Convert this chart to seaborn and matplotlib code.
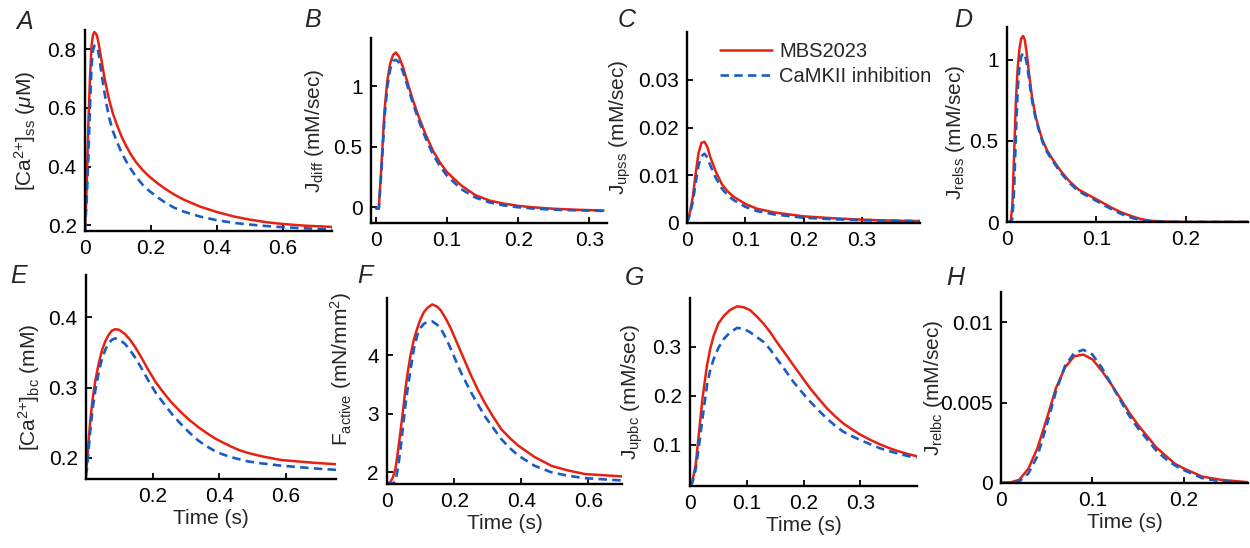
import matplotlib
matplotlib.use("Agg")
import matplotlib.pyplot as plt
import seaborn as sns
from matplotlib.ticker import FuncFormatter

# ---- data (time in s) ----
t_a = [0, 0.005, 0.01, 0.015, 0.02, 0.024, 0.028, 0.032, 0.036, 0.04, 0.045, 0.051, 0.058,
       0.066, 0.075, 0.085, 0.095, 0.11, 0.125, 0.14, 0.155, 0.175, 0.195, 0.22, 0.245, 0.27,
       0.3, 0.35, 0.4, 0.45, 0.5, 0.55, 0.6, 0.67, 0.75]
ca_ss_mbs = [0.18, 0.33, 0.54, 0.70, 0.814, 0.848, 0.859, 0.855, 0.848, 0.828, 0.797, 0.757,
             0.71, 0.665, 0.62, 0.58, 0.548, 0.505, 0.47, 0.44, 0.415, 0.388, 0.366, 0.343,
             0.323, 0.305, 0.287, 0.263, 0.245, 0.23, 0.219, 0.21, 0.204, 0.198, 0.194]
ca_ss_inh = [0.18, 0.28, 0.425, 0.60, 0.745, 0.795, 0.812, 0.814, 0.808, 0.795, 0.76, 0.711,
             0.66, 0.608, 0.56, 0.52, 0.49, 0.45, 0.418, 0.39, 0.365, 0.338, 0.317, 0.295,
             0.276, 0.26, 0.246, 0.229, 0.217, 0.208, 0.202, 0.197, 0.193, 0.189, 0.185]

t_b = [0, 0.004, 0.008, 0.012, 0.016, 0.02, 0.024, 0.028, 0.032, 0.038, 0.045, 0.052, 0.06,
       0.07, 0.08, 0.09, 0.1, 0.12, 0.14, 0.16, 0.18, 0.2, 0.22, 0.25, 0.28, 0.32]
jdiff_mbs = [-0.01, -0.01, 0.38, 0.8, 1.05, 1.19, 1.26, 1.28, 1.25, 1.16, 1.02, 0.885, 0.75,
             0.6, 0.47, 0.37, 0.29, 0.18, 0.1, 0.055, 0.03, 0.012, 0.0, -0.012, -0.02, -0.027]
jdiff_inh = [-0.01, -0.01, 0.33, 0.74, 1.0, 1.14, 1.21, 1.22, 1.2, 1.12, 0.99, 0.86, 0.72,
             0.57, 0.44, 0.34, 0.26, 0.15, 0.08, 0.04, 0.015, 0.0, -0.01, -0.02, -0.025, -0.03]

t_c = [0, 0.005, 0.01, 0.015, 0.02, 0.025, 0.03, 0.035, 0.04, 0.05, 0.06, 0.07, 0.08,
       0.1, 0.12, 0.15, 0.2, 0.25, 0.3, 0.35, 0.4]
jupss_mbs = [0, 0.0022, 0.0055, 0.0105, 0.0148, 0.0168, 0.017, 0.0159, 0.0138, 0.0106, 0.0081,
             0.0066, 0.0055, 0.004, 0.003, 0.0022, 0.0014, 0.001, 0.0007, 0.0005, 0.0004]
jupss_inh = [0, 0.0018, 0.0045, 0.0085, 0.0122, 0.014, 0.0145, 0.0137, 0.0121, 0.0093, 0.0072,
             0.0058, 0.0048, 0.0034, 0.0025, 0.0018, 0.0011, 0.0008, 0.0006, 0.0005, 0.0004]

t_d = [0, 0.004, 0.006, 0.008, 0.01, 0.012, 0.014, 0.016, 0.018, 0.02, 0.022, 0.025, 0.028,
       0.032, 0.036, 0.04, 0.045, 0.05, 0.06, 0.07, 0.08, 0.09, 0.1, 0.11, 0.12, 0.13, 0.14,
       0.15, 0.16, 0.18, 0.2, 0.24, 0.27]
jrelss_mbs = [0, 0.0, 0.1, 0.42, 0.75, 0.95, 1.07, 1.13, 1.145, 1.12, 1.04, 0.9, 0.77, 0.65,
              0.57, 0.5, 0.44, 0.395, 0.315, 0.25, 0.2, 0.17, 0.14, 0.11, 0.08, 0.055, 0.035,
              0.018, 0.008, 0.002, 0.0, 0.0, 0.0]
jrelss_inh = [0, 0.0, 0.02, 0.2, 0.55, 0.82, 0.96, 1.02, 1.04, 1.03, 0.98, 0.87, 0.75, 0.64,
              0.56, 0.49, 0.43, 0.385, 0.305, 0.24, 0.19, 0.16, 0.13, 0.1, 0.07, 0.045, 0.025,
              0.012, 0.005, 0.001, 0.0, 0.0, 0.0]

t_e = [0, 0.004, 0.008, 0.013, 0.02, 0.028, 0.038, 0.048, 0.058, 0.068, 0.078, 0.088, 0.1,
       0.117, 0.132, 0.147, 0.167, 0.187, 0.21, 0.237, 0.26, 0.287, 0.31, 0.336, 0.36, 0.386,
       0.41, 0.436, 0.46, 0.486, 0.53, 0.585, 0.635, 0.685, 0.75]
ca_bc_mbs = [0.18, 0.2, 0.225, 0.254, 0.284, 0.31, 0.334, 0.353, 0.366, 0.375, 0.381, 0.383,
             0.382, 0.376, 0.368, 0.358, 0.342, 0.325, 0.307, 0.29, 0.277, 0.264, 0.254,
             0.244, 0.236, 0.228, 0.222, 0.216, 0.211, 0.207, 0.202, 0.197, 0.195, 0.193, 0.191]
ca_bc_inh = [0.174, 0.19, 0.212, 0.24, 0.27, 0.296, 0.321, 0.341, 0.354, 0.363, 0.368, 0.37,
             0.368, 0.362, 0.353, 0.343, 0.327, 0.31, 0.292, 0.275, 0.261, 0.247, 0.236,
             0.225, 0.217, 0.21, 0.205, 0.201, 0.198, 0.195, 0.192, 0.189, 0.187, 0.185, 0.183]

t_f = [0, 0.01, 0.018, 0.025, 0.032, 0.04, 0.048, 0.055, 0.062, 0.07, 0.08, 0.09, 0.1, 0.11,
       0.12, 0.135, 0.15, 0.16, 0.175, 0.19, 0.205, 0.22, 0.235, 0.25, 0.27, 0.29, 0.315,
       0.34, 0.365, 0.39, 0.44, 0.49, 0.54, 0.59, 0.645, 0.70]
fact_mbs = [1.81, 1.83, 1.92, 2.06, 2.33, 2.69, 3.07, 3.43, 3.72, 4.0, 4.27, 4.46, 4.62, 4.74,
            4.81, 4.87, 4.83, 4.77, 4.63, 4.46, 4.26, 4.06, 3.86, 3.66, 3.42, 3.2, 2.96, 2.74,
            2.59, 2.46, 2.26, 2.11, 2.03, 1.97, 1.95, 1.93]
fact_inh = [1.81, 1.81, 1.81, 1.85, 2.05, 2.38, 2.8, 3.15, 3.45, 3.75, 4.11, 4.34, 4.47, 4.54,
            4.57, 4.58, 4.52, 4.46, 4.3, 4.11, 3.91, 3.71, 3.54, 3.37, 3.17, 2.97, 2.77, 2.57,
            2.42, 2.29, 2.11, 2.0, 1.94, 1.9, 1.88, 1.86]

t_g = [0, 0.004, 0.01, 0.016, 0.022, 0.03, 0.036, 0.042, 0.05, 0.06, 0.07, 0.083, 0.095,
       0.106, 0.118, 0.13, 0.142, 0.153, 0.168, 0.182, 0.197, 0.212, 0.227, 0.241, 0.255,
       0.27, 0.285, 0.3, 0.318, 0.335, 0.352, 0.37, 0.385, 0.399]
jupbc_mbs = [0.017, 0.025, 0.059, 0.127, 0.195, 0.263, 0.298, 0.324, 0.348, 0.364, 0.375,
             0.383, 0.381, 0.375, 0.362, 0.347, 0.329, 0.31, 0.286, 0.263, 0.239, 0.215, 0.194,
             0.175, 0.159, 0.144, 0.132, 0.121, 0.11, 0.101, 0.093, 0.086, 0.081, 0.077]
jupbc_inh = [0.017, 0.022, 0.05, 0.1, 0.154, 0.222, 0.255, 0.276, 0.298, 0.317, 0.329, 0.339,
             0.337, 0.33, 0.32, 0.31, 0.294, 0.276, 0.252, 0.229, 0.208, 0.188, 0.17, 0.154,
             0.14, 0.127, 0.118, 0.11, 0.101, 0.093, 0.087, 0.081, 0.077, 0.073]

t_h = [0, 0.01, 0.02, 0.03, 0.04, 0.05, 0.06, 0.07, 0.08, 0.09, 0.1, 0.11, 0.12, 0.13, 0.14,
       0.15, 0.16, 0.17, 0.18, 0.19, 0.2, 0.22, 0.24, 0.27]
jrelbc_mbs = [0, 0.00003, 0.0002, 0.0009, 0.0022, 0.004, 0.0059, 0.0072, 0.0079, 0.008, 0.0077,
              0.007, 0.0062, 0.0053, 0.0044, 0.0036, 0.0029, 0.0022, 0.0017, 0.0012, 0.0009,
              0.0004, 0.0002, 0.00005]
jrelbc_inh = [0, 0.00002, 0.0001, 0.0006, 0.0017, 0.0036, 0.0057, 0.0073, 0.0081, 0.0083,
              0.008, 0.0072, 0.0062, 0.0052, 0.0042, 0.0034, 0.0027, 0.002, 0.0015, 0.0011,
              0.0008, 0.0003, 0.0001, 0.00003]

series_names = ["MBS2023", "CaMKII inhibition"]
panel_letters = ["A", "B", "C", "D", "E", "F", "G", "H"]
ylabels = [r"[Ca$^{2{+}}$]$_{\rm ss}$ ($\mu$M)",
           r"J$_{\rm diff}$ (mM/sec)",
           r"J$_{\rm upss}$ (mM/sec)",
           r"J$_{\rm relss}$ (mM/sec)",
           r"[Ca$^{2{+}}$]$_{\rm bc}$ (mM)",
           r"F$_{\rm active}$ (mN/mm$^2$)",
           r"J$_{\rm upbc}$ (mM/sec)",
           r"J$_{\rm relbc}$ (mM/sec)"]
xticks = [[0, 0.2, 0.4, 0.6], [0, 0.1, 0.2, 0.3], [0, 0.1, 0.2, 0.3], [0, 0.1, 0.2],
          [0.2, 0.4, 0.6], [0, 0.2, 0.4, 0.6], [0, 0.1, 0.2, 0.3], [0, 0.1, 0.2]]
yticks = [[0.2, 0.4, 0.6, 0.8], [0, 0.5, 1], [0, 0.01, 0.02, 0.03], [0, 0.5, 1],
          [0.2, 0.3, 0.4], [2, 3, 4], [0.1, 0.2, 0.3], [0, 0.005, 0.01]]
xlims = [(0, 0.75), (-0.007, 0.325), (0, 0.40), (0, 0.27),
         (0, 0.75), (0, 0.70), (0, 0.40), (0, 0.27)]
ylims = [(0.18, 0.866), (-0.13, 1.40), (0, 0.040), (0, 1.2),
         (0.17, 0.46), (1.80, 4.98), (0.016, 0.40), (0, 0.0119)]

panels = [(t_a, ca_ss_mbs, ca_ss_inh), (t_b, jdiff_mbs, jdiff_inh),
          (t_c, jupss_mbs, jupss_inh), (t_d, jrelss_mbs, jrelss_inh),
          (t_e, ca_bc_mbs, ca_bc_inh), (t_f, fact_mbs, fact_inh),
          (t_g, jupbc_mbs, jupbc_inh), (t_h, jrelbc_mbs, jrelbc_inh)]

# ---- layout (pixel boxes: left, right, top, bottom) ----
W, H = 1250, 548
boxes = [(85, 332, 30, 231), (371, 607, 38, 223), (687, 920, 32, 223), (1007, 1248, 27, 222),
         (86, 336, 275, 479), (387, 622, 298, 484), (690, 917, 298, 486), (1001, 1248, 292, 483)]
ylabel_xy = [(-0.19, 0.5), (-0.19, 0.5), (-0.23, 0.5), (-0.166, 0.46),
             (-0.176, 0.45), (-0.14, 0.62), (-0.20, 0.5), (-0.227, 0.5)]
letter_pos = [(25, 22), (313, 20), (627, 20), (963, 20), (19, 276), (365, 276), (635, 278), (955, 278)]

RED = "#e8200f"
BLUE = "#1a5bc4"

sns.set_theme(style="ticks")
plt.rcParams["font.family"] = ["Liberation Sans", "DejaVu Sans"]
plt.rcParams["mathtext.fontset"] = "custom"
plt.rcParams["mathtext.rm"] = "Liberation Sans"
plt.rcParams["mathtext.it"] = "Liberation Sans:italic"

fig = plt.figure(figsize=(W / 100, H / 100), dpi=100)
fmt = FuncFormatter(lambda v, pos: f"{v:g}")

for i, (t, mbs, inh) in enumerate(panels):
    x0, x1, top, bot = boxes[i]
    ax = fig.add_axes([x0 / W, 1 - bot / H, (x1 - x0) / W, (bot - top) / H])
    sns.lineplot(x=t, y=mbs, ax=ax, color=RED, lw=1.8, sort=False, estimator=None,
                 label=series_names[0], legend=False)
    sns.lineplot(x=t, y=inh, ax=ax, color=BLUE, lw=1.9, sort=False, estimator=None,
                 label=series_names[1], legend=False, linestyle=(0, (3.2, 2.0)))
    if ax.get_legend() is not None:
        ax.get_legend().remove()

    ax.set_xlim(*xlims[i])
    ax.set_ylim(*ylims[i])
    ax.set_xticks(xticks[i])
    ax.set_yticks(yticks[i])
    ax.xaxis.set_major_formatter(fmt)
    ax.yaxis.set_major_formatter(fmt)
    sns.despine(ax=ax)
    for s in ["left", "bottom"]:
        ax.spines[s].set_linewidth(1.7)
        ax.spines[s].set_color("black")
    ax.tick_params(axis="both", direction="in", length=4, width=1.3, labelsize=15,
                   colors="black")
    ax.tick_params(axis="x", pad=6)
    ax.tick_params(axis="y", pad=6)
    ax.set_facecolor("white")

    ax.set_ylabel(ylabels[i], fontsize=15)
    ax.yaxis.set_label_coords(*ylabel_xy[i])
    if i >= 4:
        ax.set_xlabel("Time (s)", fontsize=15, labelpad=2)
    else:
        ax.set_xlabel("")

    lx, ly = letter_pos[i]
    fig.text(lx / W, 1 - ly / H, panel_letters[i], fontsize=18, fontstyle="italic",
             ha="center", va="center")

    if i == 2:
        handles, labels = ax.get_legend_handles_labels()
        ax.legend(handles, labels, loc="upper left", bbox_to_anchor=(0.14, 0.95),
                  frameon=False, fontsize=14.5, handlelength=2.6, handletextpad=0.35,
                  labelspacing=0.3, borderpad=0, borderaxespad=0)

fig.savefig("out.png", dpi=100, facecolor="white")
